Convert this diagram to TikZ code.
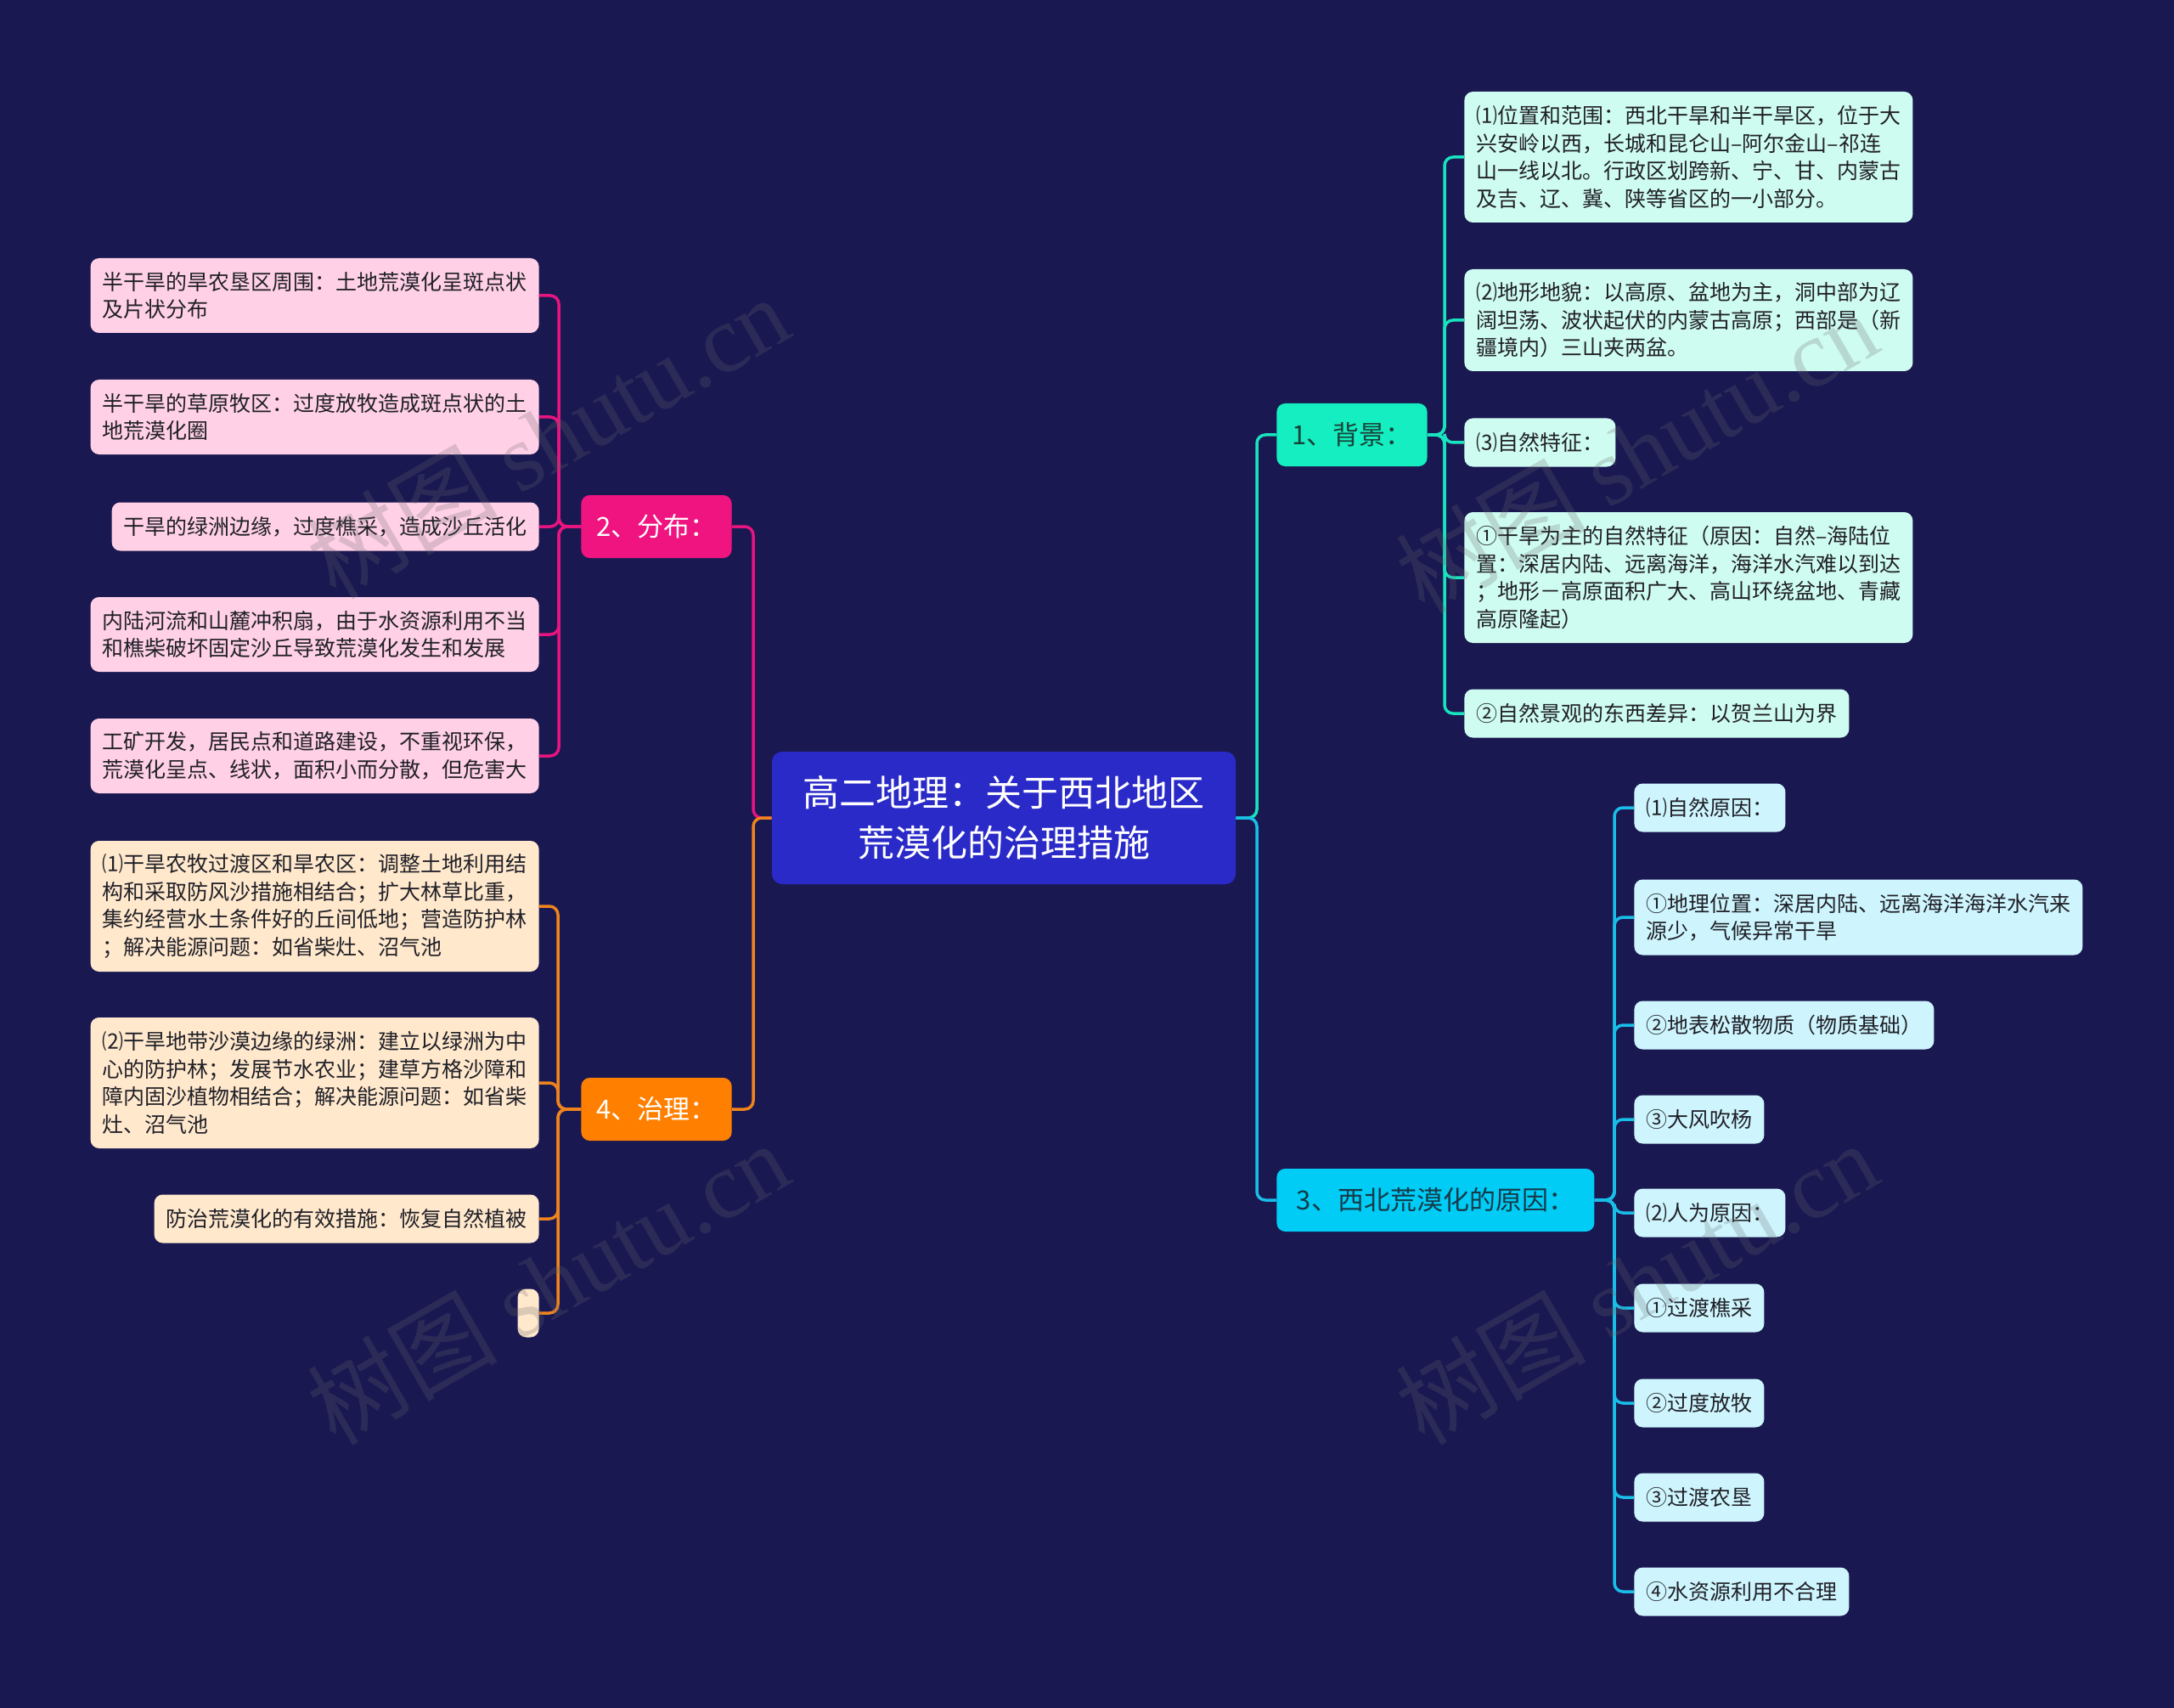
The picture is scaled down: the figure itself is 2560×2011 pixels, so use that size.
\documentclass[tikz,border=0pt]{standalone}
\usepackage{fontspec}
\setmainfont{Noto Sans CJK SC}
\newfontfamily\wmserif{Liberation Serif}
\usetikzlibrary{calc}
\definecolor{bg}{RGB}{26,24,81}
\definecolor{centralfill}{RGB}{42,42,200}
\definecolor{bonefill}{RGB}{20,238,192}
\definecolor{bthreefill}{RGB}{0,204,245}
\definecolor{btwofill}{RGB}{240,20,128}
\definecolor{bfourfill}{RGB}{255,128,0}
\definecolor{cfill}{RGB}{207,252,240}
\definecolor{dfill}{RGB}{206,245,253}
\definecolor{efill}{RGB}{255,208,230}
\definecolor{ffill}{RGB}{255,232,204}
\definecolor{lineone}{RGB}{25,227,190}
\definecolor{linethree}{RGB}{25,190,232}
\definecolor{linetwo}{RGB}{232,20,127}
\definecolor{linefour}{RGB}{240,132,28}
\definecolor{leaftext}{RGB}{32,32,40}
\definecolor{bonetext}{RGB}{24,66,56}
\definecolor{bthreetext}{RGB}{22,58,72}
\definecolor{wmgray}{RGB}{105,105,110}
\tikzset{
  leaf/.style={rounded corners=5pt, inner xsep=7pt, inner ysep=0pt,
    minimum height=#1, align=left, text=leaftext,
    font=\fontsize{12.5}{16.25}\selectfont},
  leaf/.default=28.5pt,
  branchbox/.style={rounded corners=5pt, inner xsep=9pt, inner ysep=0pt,
    minimum height=37pt, font=\fontsize{15.5}{18}\selectfont},
  centralbox/.style={rounded corners=6pt, fill=centralfill, text=white,
    minimum width=273pt, minimum height=78pt, align=center,
    font=\fontsize{21.5}{29.5}\selectfont},
  conn/.style={line width=1.75pt, rounded corners=5pt},
  wm/.style={text=wmgray, text opacity=0.24, font=\fontsize{56}{60}\selectfont, inner sep=0pt}
}
\begin{document}
\begin{tikzpicture}[x=0.5pt,y=-0.5pt]
\fill[bg] (0,0) rectangle (2560,2011);
\useasboundingbox (0,0) rectangle (2560,2011);

% central
\node[centralbox] (root) at (1182,963) {高二地理：关于西北地区\\荒漠化的治理措施};

% branches
\node[branchbox, fill=bonefill, text=bonetext, anchor=west] (b1) at (1503,512) {1、背景：};
\node[branchbox, fill=bthreefill, text=bthreetext, anchor=west, minimum width=187pt] (b3) at (1503,1413) {3、西北荒漠化的原因：};
\node[branchbox, fill=btwofill, text=white, anchor=east] (b2) at (862,620) {2、分布：};
\node[branchbox, fill=bfourfill, text=white, anchor=east] (b4) at (862,1306) {4、治理：};

% branch 1 children
\node[leaf=77pt, fill=cfill, anchor=west] (c11) at (1724,185) {⑴位置和范围：西北干旱和半干旱区，位于大\\兴安岭以西，长城和昆仑山–阿尔金山–祁连\\山一线以北。行政区划跨新、宁、甘、内蒙古\\及吉、辽、冀、陕等省区的一小部分。};
\node[leaf=60pt, fill=cfill, anchor=west] (c12) at (1724,377) {⑵地形地貌：以高原、盆地为主，洞中部为辽\\阔坦荡、波状起伏的内蒙古高原；西部是（新\\疆境内）三山夹两盆。};
\node[leaf, fill=cfill, anchor=west] (c13) at (1724,521) {⑶自然特征：};
\node[leaf=77pt, fill=cfill, anchor=west] (c14) at (1724,680) {①干旱为主的自然特征（原因：自然–海陆位\\置：深居内陆、远离海洋，海洋水汽难以到达\\；地形－高原面积广大、高山环绕盆地、青藏\\高原隆起）};
\node[leaf, fill=cfill, anchor=west] (c15) at (1724,840) {②自然景观的东西差异：以贺兰山为界};

% branch 3 children
\node[leaf, fill=dfill, anchor=west] (d1) at (1924,951) {⑴自然原因：};
\node[leaf=44.5pt, fill=dfill, anchor=west] (d2) at (1924,1080) {①地理位置：深居内陆、远离海洋海洋水汽来\\源少，气候异常干旱};
\node[leaf, fill=dfill, anchor=west] (d3) at (1924,1207) {②地表松散物质（物质基础）};
\node[leaf, fill=dfill, anchor=west] (d4) at (1924,1318) {③大风吹杨};
\node[leaf, fill=dfill, anchor=west] (d5) at (1924,1428) {⑵人为原因：};
\node[leaf, fill=dfill, anchor=west] (d6) at (1924,1540) {①过渡樵采};
\node[leaf, fill=dfill, anchor=west] (d7) at (1924,1652) {②过度放牧};
\node[leaf, fill=dfill, anchor=west] (d8) at (1924,1763) {③过渡农垦};
\node[leaf, fill=dfill, anchor=west] (d9) at (1924,1874) {④水资源利用不合理};

% branch 2 children
\node[leaf=44pt, fill=efill, anchor=east] (e1) at (635,348) {半干旱的旱农垦区周围：土地荒漠化呈斑点状\\及片状分布};
\node[leaf=44pt, fill=efill, anchor=east] (e2) at (635,491) {半干旱的草原牧区：过度放牧造成斑点状的土\\地荒漠化圈};
\node[leaf, fill=efill, anchor=east] (e3) at (635,620) {干旱的绿洲边缘，过度樵采，造成沙丘活化};
\node[leaf=44pt, fill=efill, anchor=east] (e4) at (635,747) {内陆河流和山麓冲积扇，由于水资源利用不当\\和樵柴破坏固定沙丘导致荒漠化发生和发展};
\node[leaf=44pt, fill=efill, anchor=east] (e5) at (635,890) {工矿开发，居民点和道路建设，不重视环保，\\荒漠化呈点、线状，面积小而分散，但危害大};

% branch 4 children
\node[leaf=77pt, fill=ffill, anchor=east] (f1) at (635,1067) {⑴干旱农牧过渡区和旱农区：调整土地利用结\\构和采取防风沙措施相结合；扩大林草比重，\\集约经营水土条件好的丘间低地；营造防护林\\；解决能源问题：如省柴灶、沼气池};
\node[leaf=77pt, fill=ffill, anchor=east] (f2) at (635,1275) {⑵干旱地带沙漠边缘的绿洲：建立以绿洲为中\\心的防护林；发展节水农业；建草方格沙障和\\障内固沙植物相结合；解决能源问题：如省柴\\灶、沼气池};
\node[leaf, fill=ffill, anchor=east] (f3) at (635,1435) {防治荒漠化的有效措施：恢复自然植被};
\node[leaf, fill=ffill, anchor=east, inner xsep=0pt, minimum width=12.5pt] (f4) at (635,1546) {};

% junctions
\coordinate (jr) at (1480,963);
\coordinate (jl) at (887,963);
\coordinate (j1) at (1701,512);
\coordinate (j3) at (1901,1413);
\coordinate (j2) at (658,620);
\coordinate (j4) at (657,1306);

% connectors root -> branches
\draw[conn, lineone] (root.east) -- (jr) |- (b1.west);
\draw[conn, linethree] (root.east) -- (jr) |- (b3.west);
\draw[conn, linetwo] (root.west) -- (jl) |- (b2.east);
\draw[conn, linefour] (root.west) -- (jl) |- (b4.east);

% branch 1
\foreach \c in {c11,c12,c13,c14,c15}
  \draw[conn, lineone] (b1.east) -- (j1) |- (\c.west);
% branch 3
\foreach \c in {d1,d2,d3,d4,d5,d6,d7,d8,d9}
  \draw[conn, linethree] (b3.east) -- (j3) |- (\c.west);
% branch 2
\foreach \c in {e1,e2,e3,e4,e5}
  \draw[conn, linetwo] (b2.west) -- (j2) |- (\c.east);
% branch 4
\foreach \c in {f1,f2,f3,f4}
  \draw[conn, linefour] (b4.west) -- (j4) |- (\c.east);

% watermarks
\node[wm, rotate=30] (wm1) at (645,514) {树图 {\wmserif shutu.cn}};
\node[wm, rotate=30] (wm2) at (645,1510) {树图 {\wmserif shutu.cn}};
\node[wm, rotate=30] (wm3) at (1927,531) {树图 {\wmserif shutu.cn}};
\node[wm, rotate=30] (wm4) at (1927,1510) {树图 {\wmserif shutu.cn}};
\end{tikzpicture}
\end{document}
